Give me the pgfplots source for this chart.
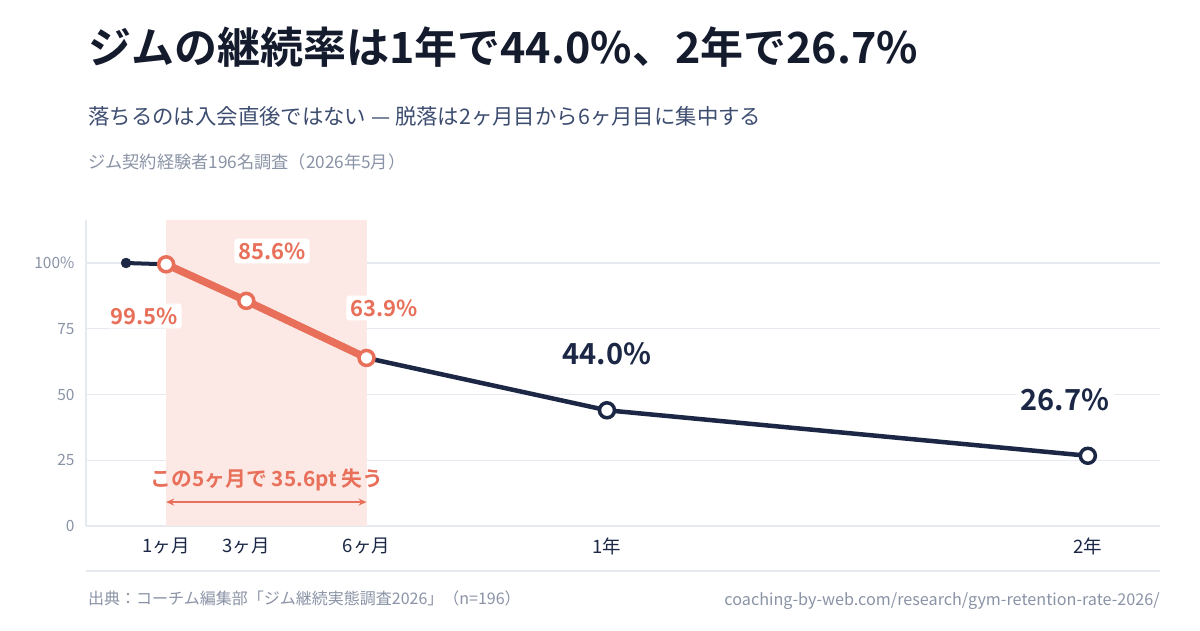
\documentclass[border=0pt]{standalone}
\usepackage{fontspec}
\setmainfont{Noto Sans CJK JP}[BoldFont={Noto Sans CJK JP Bold}]
\usepackage{pgfplots}
\pgfplotsset{compat=1.18}
\usetikzlibrary{arrows.meta}
\definecolor{navy}{HTML}{1B2744}
\definecolor{coral}{HTML}{E8705A}
\definecolor{band}{HTML}{FCE9E5}
\definecolor{gridc}{HTML}{E6E9F0}
\definecolor{titlec}{HTML}{141B2D}
\definecolor{subc}{HTML}{3D4D70}
\definecolor{grayc}{HTML}{8A93A6}
\begin{document}
\begin{tikzpicture}[x=1pt,y=1pt]
\fill[white] (0,0) rectangle (1200,630);
\useasboundingbox (0,0) rectangle (1200,630);
% titles
\node[anchor=base west,inner sep=0,text=titlec] at (88,566) {\fontsize{43}{43}\selectfont\bfseries ジムの継続率は1年で44.0\%、2年で26.7\%};
\node[anchor=base west,inner sep=0,text=subc] at (88,505) {\fontsize{21.4}{21.4}\selectfont 落ちるのは入会直後ではない — 脱落は2ヶ月目から6ヶ月目に集中する};
\node[anchor=base west,inner sep=0,text=grayc] at (88,461) {\fontsize{17.2}{17.2}\selectfont ジム契約経験者196名調査（2026年5月）};
\begin{axis}[
  at={(86pt,104pt)}, anchor=south west,
  scale only axis, width=1074pt, height=306pt,
  xmin=-1, xmax=25.8, ymin=0, ymax=116.35,
  axis x line*=bottom, axis y line*=left,
  axis line style={draw=gridc, line width=1.2pt, -},
  major tick length=0pt,
  ymajorgrids, grid style={draw=gridc, line width=1.2pt},
  ytick={0,25,50,75,100},
  yticklabels={0,25,50,75,100\%},
  xtick={1,3,6,12,24},
  xticklabels={1ヶ月,3ヶ月,6ヶ月,1年,2年},
  /pgf/number format/assume math mode=true,
  yticklabel style={font=\fontsize{15.5}{15.5}\selectfont, text=grayc, xshift=-8pt},
  xticklabel style={font=\fontsize{18.5}{18.5}\selectfont, text=navy, yshift=-8pt},
  clip=false,
]
\fill[band] (axis cs:1,0) rectangle (axis cs:6,116.35);
\addplot[navy, line width=4pt] coordinates {(0,100) (1,99.5)};
\addplot[navy, line width=4.5pt] coordinates {(6,63.9) (12,44.0) (24,26.7)};
\addplot[coral, line width=7.5pt] coordinates {(1,99.5) (3,85.6) (6,63.9)};
\addplot[only marks, mark=*, mark size=5pt, mark options={fill=navy, draw=navy}] coordinates {(0,100)};
\addplot[only marks, mark=*, mark size=7.5pt, mark options={fill=white, draw=coral, line width=3.5pt}] coordinates {(1,99.5) (3,85.6) (6,63.9)};
\addplot[only marks, mark=*, mark size=7.5pt, mark options={fill=white, draw=navy, line width=3.5pt}] coordinates {(12,44.0) (24,26.7)};
\draw[coral, line width=2.5pt, {Stealth[length=8pt,width=7pt]}-{Stealth[length=8pt,width=7pt]}] (axis cs:1,9.1) -- (axis cs:6,9.1);
\end{axis}
% data labels
\node[fill=white, rounded corners=3pt, inner sep=4pt, text=coral] at (144,314) {\fontsize{22}{22}\selectfont\bfseries 99.5\%};
\node[fill=white, rounded corners=3pt, inner sep=4pt, text=coral] at (272,379) {\fontsize{22}{22}\selectfont\bfseries 85.6\%};
\node[fill=white, rounded corners=3pt, inner sep=4pt, text=coral] at (384,322) {\fontsize{22}{22}\selectfont\bfseries 63.9\%};
\node[fill=white, rounded corners=3pt, inner sep=4pt, text=navy] at (607,276) {\fontsize{29}{29}\selectfont\bfseries 44.0\%};
\node[fill=white, rounded corners=3pt, inner sep=5pt, text=navy] at (1065,230) {\fontsize{29}{29}\selectfont\bfseries 26.7\%};
\node[text=coral] at (267,150) {\fontsize{20.8}{20.8}\selectfont\bfseries この5ヶ月で 35.6pt 失う};
% footer
\draw[gridc, line width=2pt] (86,59) -- (1160,59);
\node[anchor=base west,inner sep=0,text=grayc] at (88,26) {\fontsize{16}{16}\selectfont 出典：コーチム編集部「ジム継続実態調査2026」（n=196）};
\node[anchor=base east,inner sep=0,text=grayc] at (1160,25) {\fontsize{16.2}{16.2}\selectfont coaching-by-web.com/research/gym-retention-rate-2026/};
\end{tikzpicture}
\end{document}
